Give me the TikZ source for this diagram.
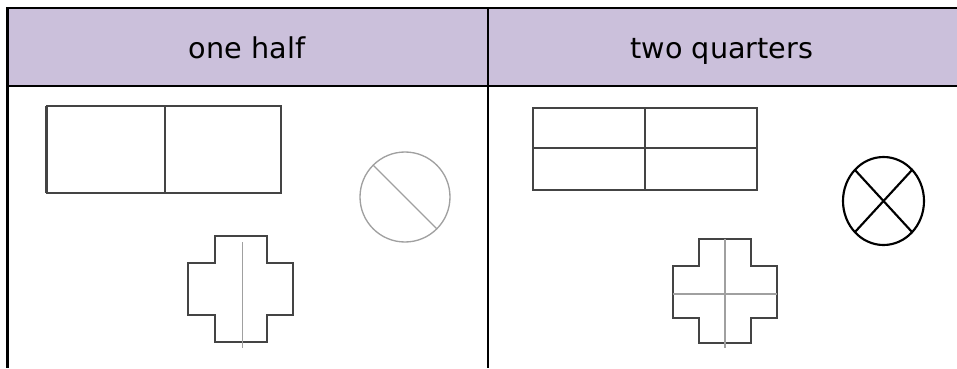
\documentclass[tikz,border=0pt]{standalone}
\usepackage{fontspec}
\setmainfont{DejaVu Sans}
\usepackage{tikz}
\definecolor{lilac}{RGB}{203,192,219}
\definecolor{shapegray}{RGB}{68,68,68}
\definecolor{guidegray}{RGB}{160,160,160}

\begin{document}
\begin{tikzpicture}[x=0.75pt,y=-0.75pt,
  rule/.style={line width=2.2pt,black},
  outline/.style={line width=1.3pt,shapegray},
  guide/.style={line width=1pt,guidegray},
  heading/.style={font=\fontsize{21.5}{25}\selectfont,anchor=base}]

 \useasboundingbox (0,0) rectangle (957,368);

 % header row
 \fill[lilac] (7.5,8) rectangle (957,86);
 \draw[rule] (957,8) -- (7.5,8) -- (7.5,368);
 \draw[rule] (7.5,86) -- (957,86);
 \draw[rule] (488,8) -- (488,368);

 \node[heading] (half) at (247,58) {one half};
 \node[heading] (quarters) at (722,58) {two quarters};

 % one half
 \draw[outline] (46.7,105.7) rectangle (280.7,192.7);
 \draw[outline] (165,105.7) -- (165,192.7);
 \draw[line width=2.2pt,shapegray] (46.7,105.7) -- (46.7,192.7);

 \draw[guide] (405,197) ellipse (45 and 45);
 \draw[guide] (373.2,165.2) -- (436.8,228.8);

 \draw[outline] (215,236) -- (266.7,236) -- (266.7,263) -- (293,263) -- (293,315)
   -- (266.7,315) -- (266.7,341.7) -- (215,341.7) -- (215,315) -- (188,315)
   -- (188,263) -- (215,263) -- cycle;
 \draw[guide] (242.7,242) -- (242.7,348);

 % two quarters
 \draw[outline] (532.7,107.7) rectangle (757,190);
 \draw[outline] (645,107.7) -- (645,190);
 \draw[outline] (532.7,148.3) -- (757,148.3);

 \draw[line width=1.6pt,black] (883.5,201) ellipse (40.5 and 44);
 \draw[line width=1.6pt,black] (854.9,169.9) -- (912.1,232.1);
 \draw[line width=1.6pt,black] (912.1,169.9) -- (854.9,232.1);

 \draw[outline] (699.3,239.3) -- (750.7,239.3) -- (750.7,266) -- (776.7,266) -- (776.7,317.7)
   -- (750.7,317.7) -- (750.7,343.3) -- (699.3,343.3) -- (699.3,317.7) -- (672.7,317.7)
   -- (672.7,266) -- (699.3,266) -- cycle;
 \draw[guide] (725,239.3) -- (725,347.7);
 \draw[guide] (672.7,294) -- (776.7,294);

\end{tikzpicture}
\end{document}
